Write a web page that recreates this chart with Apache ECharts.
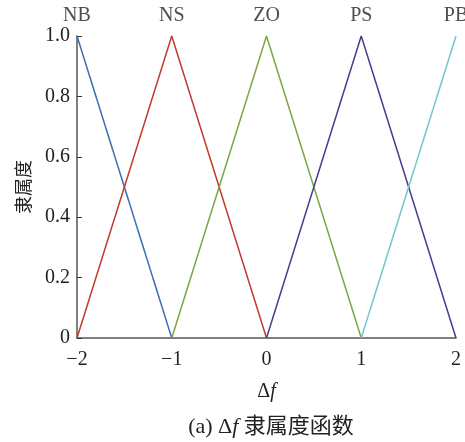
<!DOCTYPE html>
<html>
<head>
<meta charset="utf-8">
<script src="https://cdn.jsdelivr.net/npm/echarts@6/dist/echarts.min.js"></script>
<style>
  html, body { margin: 0; padding: 0; background: #fff; }
  #myChart { width: 465px; height: 442px; }
</style>
</head>
<body>
<div id="myChart"></div>
<script>
let myChart = echarts.init(document.getElementById('myChart'));

const font = '"Liberation Serif", "Noto Sans CJK SC", serif';

// membership function names and their peak positions
const names = ['NB', 'NS', 'ZO', 'PS', 'PB'];
const colors = ['#3d6eb0', '#c23a2f', '#79a744', '#4a3b8f', '#72c6d0'];
const nbPoints = [[-2, 1], [-1, 0]];
const nsPoints = [[-2, 0], [-1, 1], [0, 0]];
const zoPoints = [[-1, 0], [0, 1], [1, 0]];
const psPoints = [[0, 0], [1, 1], [2, 0]];
const pbPoints = [[1, 0], [2, 1]];
const peaks = [-2, -1, 0, 1, 2];
const allPoints = [nbPoints, nsPoints, zoPoints, psPoints, pbPoints];

const series = allPoints.map(function (pts, i) {
  return {
    name: names[i],
    type: 'line',
    symbol: 'none',
    lineStyle: { color: colors[i], width: 1.5 },
    clip: false,
    data: pts,
  };
});

// names above each peak
series.push({
  type: 'scatter',
  symbolSize: 2,
  itemStyle: { color: 'rgba(0,0,0,0)' },
  clip: false,
  silent: true,
  label: {
    show: true,
    position: 'top',
    distance: 9,
    fontFamily: font,
    fontSize: 20,
    color: '#222',
    formatter: function (p) {
      return names[p.dataIndex];
    },
  },
  data: peaks.map(function (x) {
    return [x, 1];
  }),
});

let myChartOption = {
  animation: false,
  title: {
    text: '(a) Δ{i|f} 隶属度函数',
    left: 266,
    textAlign: 'center',
    top: 411,
    textStyle: {
      fontFamily: font,
      fontSize: 22,
      fontWeight: 'normal',
      color: '#222',
      rich: {
        i: { fontFamily: font, fontSize: 22, fontStyle: 'italic', color: '#222' },
      },
    },
  },
  grid: {
    left: 77,
    right: 9,
    top: 36,
    bottom: 104,
    outerBoundsMode: 'none',
  },
  xAxis: {
    type: 'value',
    min: -2,
    max: 2,
    interval: 1,
    name: 'Δ{i|f}',
    nameLocation: 'middle',
    nameGap: 44,
    nameTextStyle: {
      fontFamily: font,
      fontSize: 20,
      color: '#222',
      rich: {
        i: { fontFamily: font, fontSize: 20, fontStyle: 'italic', color: '#222' },
      },
    },
    splitLine: { show: false },
    axisLine: { onZero: false, lineStyle: { color: '#555', width: 1.5 } },
    axisTick: { show: false },
    axisLabel: {
      fontFamily: font,
      fontSize: 20,
      color: '#222',
      margin: 12,
      formatter: function (v) {
        return v < 0 ? '\u2212' + Math.abs(v) : '' + v;
      },
    },
  },
  yAxis: {
    type: 'value',
    min: 0,
    max: 1,
    interval: 0.2,
    name: '隶属度',
    nameLocation: 'middle',
    nameGap: 43,
    nameTextStyle: {
      fontFamily: font,
      fontSize: 18,
      color: '#222',
    },
    splitLine: { show: false },
    axisLine: { show: true, onZero: false, lineStyle: { color: '#555', width: 1.5 } },
    axisTick: { show: true, inside: true, length: 5, lineStyle: { color: '#333' } },
    axisLabel: {
      fontFamily: font,
      fontSize: 20,
      color: '#222',
      margin: 7,
      formatter: function (v) {
        return v === 0 ? '0' : v.toFixed(1);
      },
    },
  },
  series: series,
};

myChart.setOption(myChartOption);
</script>
</body>
</html>
